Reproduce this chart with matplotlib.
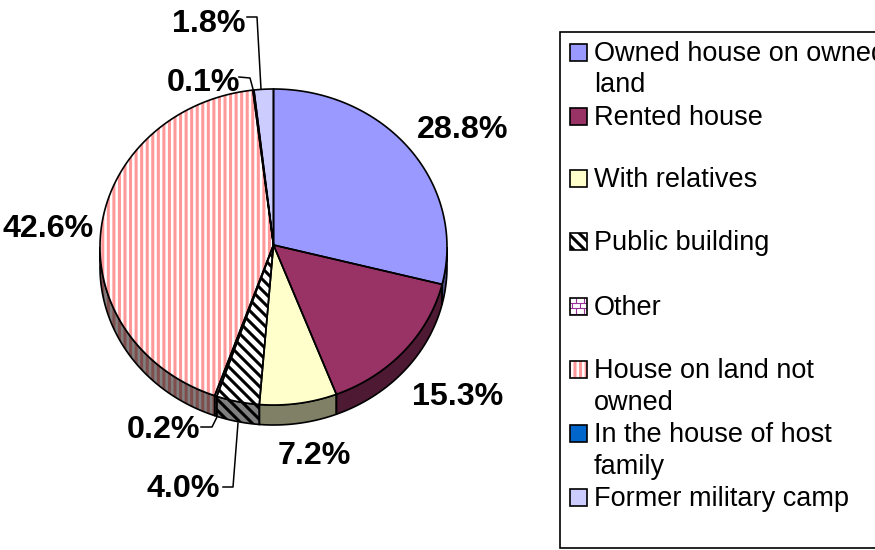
import numpy as np
import matplotlib
matplotlib.use('Agg')
import matplotlib.pyplot as plt
from matplotlib.patches import Polygon, Rectangle

plt.rcParams['font.family'] = ['Liberation Sans', 'DejaVu Sans']
plt.rcParams['hatch.linewidth'] = 2.2

# --- dados ---
categorias = ['Owned house on owned\nland', 'Rented house', 'With relatives', 'Public building',
              'Other', 'House on land not\nowned', 'In the house of host\nfamily', 'Former military camp']
valores = [28.8, 15.3, 7.2, 4.0, 0.2, 42.6, 0.1, 1.8]
rotulos = ['28.8%', '15.3%', '7.2%', '4.0%', '0.2%', '42.6%', '0.1%', '1.8%']

# --- estilos: (face, cor do padrao, padrao) topo e lateral ---
topo = [('#9999FF', None, None), ('#993366', None, None), ('#FFFFCC', None, None),
        ('white', 'black', 'diag'), ('white', '#993399', 'tijolo'),
        ('white', '#FF9999', '|||'), ('#0066CC', None, None), ('#CCCCFF', None, None)]
lado = [('#4D4D80', None, None), ('#4D1933', None, None), ('#808066', None, None),
        ('#808080', 'black', 'diag'), ('#808080', '#4D194D', 'tijolo'),
        ('#808080', '#804D4D', '|||'), ('#003366', None, None), ('#666680', None, None)]

# --- geometria em pixels ---
cx, cy, rx, ry, prof = 273.5, 247, 173.5, 158, 20
pos_rotulos = [(462.5, 128), (458, 395), (314, 454), (183, 487), (163, 428), (48, 227), (203, 81), (209, 22)]
guias = {3: [(223, 487), (233, 487), (238, 423)],
         4: [(201, 427), (212, 427), (217, 417)],
         6: [(239, 77), (250, 78), (253, 89)],
         7: [(247, 17), (257, 17), (261, 89)]}
leg_y = [52, 116, 178, 241, 306, 369, 433, 497]


def arco(a0, a1, dy=0):
    t = np.radians(np.linspace(a0, a1, max(int(abs(a1 - a0) * 2), 2)))
    return np.column_stack([cx + rx * np.sin(t), cy - ry * np.cos(t) + dy])


def padrao(ax, patch, cor, tipo, z):
    # listras desenhadas a mao, recortadas pela propria forma
    linhas = []
    if tipo == 'diag':
        for c in np.arange(-600, 900, 11):
            linhas.append(([c, c + 600], [0, 600], 2.2))
    else:
        for j, y in enumerate(np.arange(0, 550, 5.5)):
            linhas.append(([0, 875], [y, y], 0.8))
            for x in np.arange(j % 2 * 4, 875, 8):
                linhas.append(([x, x], [y, y + 5.5], 0.8))
    for xs, ys, lw in linhas:
        ln, = ax.plot(xs, ys, color=cor, lw=lw, zorder=z, solid_capstyle='butt')
        ln.set_clip_path(patch)


def desenha(ax, forma, estilo, z):
    face, cor_h, tipo = estilo
    if tipo == '|||':
        forma.set(facecolor=face, edgecolor=cor_h, hatch=tipo, lw=0, zorder=z)
        ax.add_patch(forma)
    else:
        forma.set(facecolor=face, edgecolor='none', zorder=z)
        ax.add_patch(forma)
        if tipo:
            padrao(ax, forma, cor_h, tipo, z)
    contorno = Polygon(forma.get_xy() if isinstance(forma, Polygon) else forma.get_corners(),
                       closed=True, fill=False, edgecolor='black', lw=1.2, zorder=z + 0.1)
    ax.add_patch(contorno)


fig, ax = plt.subplots(figsize=(8.75, 5.5), dpi=100)
ax.set_position([0, 0, 1, 1])
ax.axis('off')

angulos = np.concatenate([[0], np.cumsum(valores)]) * 3.6

# laterais
for i in range(len(valores)):
    a0, a1 = max(angulos[i], 90), min(angulos[i + 1], 270)
    if a1 > a0:
        xy = np.vstack([arco(a0, a1), arco(a0, a1, prof)[::-1]])
        desenha(ax, Polygon(xy, closed=True), lado[i], 2)

# fatias
for i in range(len(valores)):
    xy = np.vstack([[cx, cy - 2], arco(angulos[i], angulos[i + 1])])
    desenha(ax, Polygon(xy, closed=True), topo[i], 3)

# rotulos e linhas guia
for i, r in enumerate(rotulos):
    x, y = pos_rotulos[i]
    ax.text(x, y + 2, r, fontsize=23.2, fontweight='bold', ha='center', va='center', zorder=6)
for pts in guias.values():
    ax.plot(*zip(*pts), color='black', lw=1.1, zorder=5)

# legenda
ax.add_patch(Rectangle((560, 32), 330, 516, facecolor='white', edgecolor='black', lw=1.2, zorder=1))
for i, c in enumerate(categorias):
    y = leg_y[i]
    desenha(ax, Rectangle((569.5, y - 8.5), 17, 17), topo[i], 3)
    for k, linha in enumerate(c.split('\n')):
        ax.text(594, y + 2 + k * 31.5, linha, fontsize=19.5, ha='left', va='center', zorder=4)

ax.set_xlim(0, 875)
ax.set_ylim(550, 0)
fig.savefig('out.png', dpi=100, facecolor='white')
